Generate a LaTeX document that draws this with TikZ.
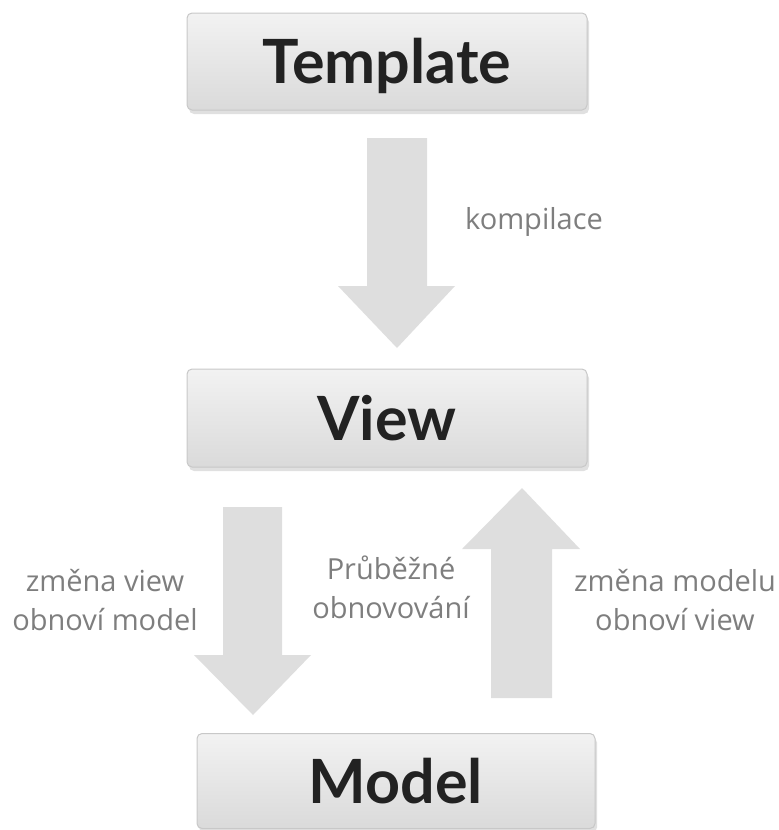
\documentclass[tikz,border=0pt]{standalone}
\usepackage{fontspec}
\setmainfont{Open Sans}
\newfontfamily\boxfont{Lato}
\usetikzlibrary{shadows}
\definecolor{arrowgray}{HTML}{DEDEDE}
\definecolor{labelgray}{HTML}{7E7E7E}
\definecolor{boxborder}{HTML}{C8C8C8}
\definecolor{boxtop}{HTML}{F2F2F2}
\definecolor{boxbottom}{HTML}{DADADA}
\definecolor{boxtext}{HTML}{222222}
\tikzset{
  mvcbox/.style={draw=boxborder, line width=1pt, rounded corners=5pt,
    top color=boxtop, bottom color=boxbottom,
    drop shadow={shadow xshift=2pt, shadow yshift=-4pt, opacity=0.12, fill=black},
    font=\boxfont\bfseries\fontsize{61}{61}\selectfont, text=boxtext,
    text height=44pt, text depth=0pt, inner sep=0pt},
  lbl/.style={font=\fontsize{29}{39}\selectfont, text=labelgray, align=center, inner sep=0pt},
  blockarrow/.style={fill=arrowgray, draw=none}
}
\begin{document}
\begin{tikzpicture}[x=1pt,y=-1pt]
\useasboundingbox (0,0) rectangle (779,830);
\node[mvcbox, minimum width=400pt, minimum height=97pt] (tpl) at (387,61.5) {Template};
\node[mvcbox, minimum width=400pt, minimum height=98pt] (view) at (387,418) {View};
\node[mvcbox, minimum width=398pt, minimum height=95pt] (model) at (396,781) {Model};
% arrow template -> view
\fill[blockarrow] (367,138) -- (427,138) -- (427,286) -- (455,286) -- (397,348) -- (338,286) -- (367,286) -- cycle;
% arrow view -> model
\fill[blockarrow] (223,507) -- (282,507) -- (282,655) -- (311,655) -- (253,715) -- (194,655) -- (223,655) -- cycle;
% arrow model -> view
\fill[blockarrow] (491,698) -- (552,698) -- (552,549) -- (580,549) -- (522,488) -- (462,549) -- (491,549) -- cycle;
\node[lbl] (k) at (534,222) {kompilace};
\node[lbl] (l1) at (105,600) {změna view\\obnoví model};
\node[lbl] (l2) at (391,587) {Průběžné\\obnovování};
\node[lbl] (l3) at (675,600) {změna modelu\\obnoví view};
\end{tikzpicture}
\end{document}
